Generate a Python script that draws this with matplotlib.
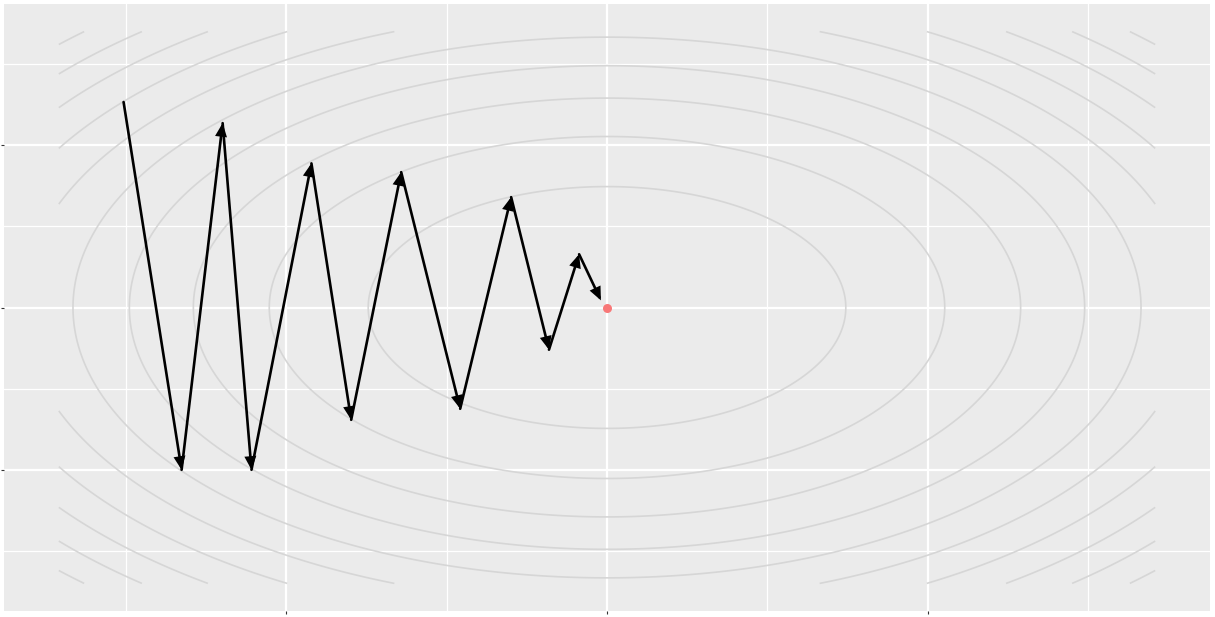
import numpy as np
import matplotlib.pyplot as plt

# descent path (start first, each later point gets an arrow)
path_x = [-15.08, -13.27, -11.99, -11.09, -9.22, -7.98, -6.42, -4.58, -2.99, -1.81, -0.87, -0.19]
path_y = [6.33, -5.00, 5.68, -5.00, 4.44, -3.46, 4.17, -3.12, 3.40, -1.30, 1.64, 0.22]

# minimum of the surface
min_x = [0.0]
min_y = [0.0]

# loss surface f = a*x^2 + b*y^2 and its contour levels
coef_a = 1.0
coef_b = 4.0
contour_levels = [55.5, 111, 166.5, 222, 277.5, 333, 388.5, 444, 499.5, 555]
grid_x_range = (-17.1, 17.1)
grid_y_range = (-8.5, 8.5)

x_major = [-10, 0, 10]
x_minor = [-15, -5, 5, 15]
y_major = [-5, 0, 5]
y_minor = [-7.5, -2.5, 2.5, 7.5]

fig = plt.figure(figsize=(12.15, 6.17), dpi=100)
ax = fig.add_axes([4 / 1215, 6 / 617, 1206 / 1215, 607 / 617])
ax.set_facecolor('#EBEBEB')
for s in ax.spines.values():
    s.set_visible(False)

xs = np.linspace(*grid_x_range, 300)
ys = np.linspace(*grid_y_range, 200)
X, Y = np.meshgrid(xs, ys)
Z = coef_a * X ** 2 + coef_b * Y ** 2
ax.contour(X, Y, Z, levels=contour_levels, colors='#D6D6D6', linewidths=1.2, zorder=2)

# grid
for v in x_major:
    ax.axvline(v, color='white', lw=1.6, zorder=1)
for v in x_minor:
    ax.axvline(v, color='white', lw=0.9, zorder=1)
for v in y_major:
    ax.axhline(v, color='white', lw=1.6, zorder=1)
for v in y_minor:
    ax.axhline(v, color='white', lw=0.9, zorder=1)

# arrows
for i in range(1, len(path_x)):
    ax.annotate('', xy=(path_x[i], path_y[i]), xytext=(path_x[i - 1], path_y[i - 1]),
                arrowprops=dict(arrowstyle='-|>,head_length=0.5,head_width=0.22',
                                mutation_scale=13, color='black', lw=1.9,
                                shrinkA=0, shrinkB=0, joinstyle='miter'),
                zorder=4)

ax.plot(min_x, min_y, 'o', color='#F87878', markersize=6.5, markeredgewidth=0, zorder=5)

dx = (grid_x_range[1] - grid_x_range[0]) * 0.05
dy = (grid_y_range[1] - grid_y_range[0]) * 0.05
ax.set_xlim(grid_x_range[0] - dx, grid_x_range[1] + dx)
ax.set_ylim(grid_y_range[0] - dy, grid_y_range[1] + dy)
ax.set_xticks(x_major)
ax.set_yticks(y_major)
ax.set_xticklabels([])
ax.set_yticklabels([])
ax.tick_params(length=2.5, width=0.8, color='#333333')

fig.savefig('out.png', dpi=100)
